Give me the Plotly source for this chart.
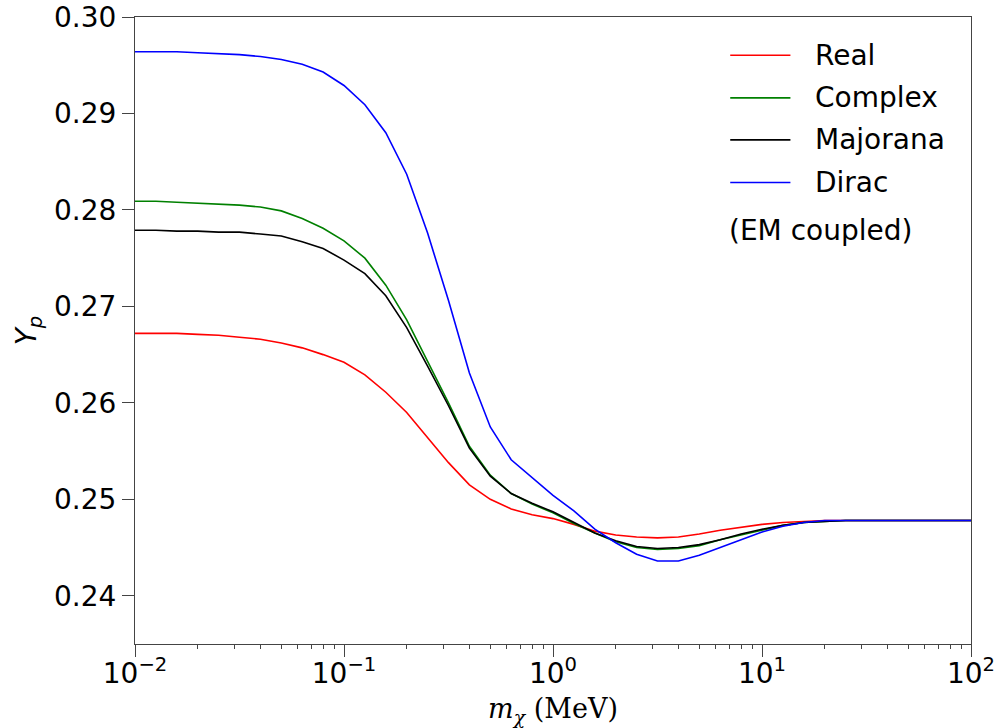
import plotly.graph_objects as go

# log10 of dark-matter mass m_chi (MeV), sampled every 0.1 decade
log_m = [round(-2.0 + 0.1 * k, 1) for k in range(41)]
m_chi = [10 ** v for v in log_m]

y_real = [
    0.2672, 0.2672, 0.2672, 0.2671, 0.2670, 0.2668, 0.2666, 0.2662, 0.2657, 0.2650,
    0.2642, 0.2629, 0.2611, 0.2590, 0.2564, 0.2538, 0.2515, 0.2500, 0.2490, 0.2484,
    0.2480, 0.2474, 0.2467, 0.2463, 0.2461, 0.2460, 0.2461, 0.2464, 0.2468, 0.2471,
    0.2474, 0.2476, 0.2477, 0.2478, 0.2478, 0.2478, 0.2478, 0.2478, 0.2478, 0.2478,
    0.2478,
]
y_complex = [
    0.2809, 0.2809, 0.2808, 0.2807, 0.2806, 0.2805, 0.2803, 0.2799, 0.2791, 0.2781,
    0.2768, 0.2750, 0.2722, 0.2686, 0.2643, 0.2600, 0.2555, 0.2525, 0.2506, 0.2495,
    0.2486, 0.2475, 0.2465, 0.2456, 0.2450, 0.2448, 0.2449, 0.2452, 0.2458, 0.2463,
    0.2468, 0.2473, 0.2476, 0.2477, 0.2478, 0.2478, 0.2478, 0.2478, 0.2478, 0.2478,
    0.2478,
]
y_majorana = [
    0.2779, 0.2779, 0.2778, 0.2778, 0.2777, 0.2777, 0.2775, 0.2773, 0.2767, 0.2760,
    0.2748, 0.2734, 0.2711, 0.2678, 0.2638, 0.2597, 0.2553, 0.2524, 0.2506, 0.2496,
    0.2487, 0.2476, 0.2465, 0.2457, 0.2451, 0.2449, 0.2450, 0.2453, 0.2458, 0.2464,
    0.2469, 0.2473, 0.2476, 0.2477, 0.2478, 0.2478, 0.2478, 0.2478, 0.2478, 0.2478,
    0.2478,
]
y_dirac = [
    0.2964, 0.2964, 0.2964, 0.2963, 0.2962, 0.2961, 0.2959, 0.2956, 0.2951, 0.2943,
    0.2929, 0.2909, 0.2880, 0.2837, 0.2776, 0.2706, 0.2631, 0.2575, 0.2541, 0.2522,
    0.2504, 0.2488, 0.2469, 0.2455, 0.2443, 0.2436, 0.2436, 0.2442, 0.2450, 0.2458,
    0.2466, 0.2472, 0.2476, 0.2478, 0.2478, 0.2478, 0.2478, 0.2478, 0.2478, 0.2478,
    0.2478,
]

series_names = ["Real", "Complex", "Majorana", "Dirac"]
series_values = [y_real, y_complex, y_majorana, y_dirac]
series_colors = ["#ff0000", "#008000", "#000000", "#0000ff"]

x_tickvals = [1e-2, 1e-1, 1e0, 1e1, 1e2]
x_ticktext = ["10<sup>\u22122</sup>", "10<sup>\u22121</sup>", "10<sup>0</sup>",
              "10<sup>1</sup>", "10<sup>2</sup>"]

FONT = "DejaVu Sans"
AXIS_COLOR = "#444444"

fig = go.Figure()
for name, ys, col in zip(series_names, series_values, series_colors):
    fig.add_trace(go.Scatter(
        x=m_chi, y=ys, mode="lines", name=name,
        line=dict(color=col, width=1.6), showlegend=False,
    ))

# minor ticks at 2..9 within each decade
minor_vals = [d * 10 ** e for e in range(-2, 2) for d in range(2, 10)]

fig.update_xaxes(
    type="log", range=[-2, 2], automargin=False,
    tickmode="array", tickvals=x_tickvals, ticktext=x_ticktext,
    ticks="outside", ticklen=12, tickwidth=1, tickcolor=AXIS_COLOR,
    ticklabelposition="outside", ticklabelstandoff=-8,
    minor=dict(tickmode="array", tickvals=minor_vals, ticks="outside",
               ticklen=4, tickwidth=1, tickcolor=AXIS_COLOR, showgrid=False),
    showline=True, linecolor=AXIS_COLOR, linewidth=1, mirror=True,
    showgrid=False, zeroline=False,
    tickfont=dict(family=FONT, size=28, color="black"),
    title=dict(text="<i>m</i><sub><i>\u03c7</i></sub> (MeV)",
               font=dict(family="DejaVu Serif", size=27, color="black"),
               standoff=11),
)
fig.update_yaxes(
    range=[0.235, 0.30], tick0=0.24, dtick=0.01, tickformat=".2f",
    automargin=False,
    ticks="outside", ticklen=12, tickwidth=1, tickcolor=AXIS_COLOR,
    showline=True, linecolor=AXIS_COLOR, linewidth=1, mirror=True,
    showgrid=False, zeroline=False,
    tickfont=dict(family=FONT, size=28, color="black"),
    title=dict(text="<i>Y</i><sub><i>p</i></sub>",
               font=dict(family=FONT, size=28, color="black"),
               standoff=9),
)

# legend drawn in the upper right of the plotting area
leg_x0, leg_x1, leg_text_x = 0.712, 0.784, 0.811
leg_rows = [0.939, 0.871, 0.804, 0.736]
for name, col, yy in zip(series_names, series_colors, leg_rows):
    fig.add_shape(type="line", xref="paper", yref="paper",
                  x0=leg_x0, x1=leg_x1, y0=yy, y1=yy,
                  line=dict(color=col, width=1.6))
    fig.add_annotation(xref="paper", yref="paper", x=leg_text_x, y=yy,
                       text=name, showarrow=False, xanchor="left", yanchor="middle",
                       font=dict(family=FONT, size=28, color="black"))
fig.add_annotation(xref="paper", yref="paper", x=leg_x0 - 0.004, y=0.660,
                   text="(EM coupled)", showarrow=False, xanchor="left", yanchor="middle",
                   font=dict(family=FONT, size=28, color="black"))

fig.update_layout(
    width=1008, height=728,
    margin=dict(l=135, r=37, t=17, b=84),
    paper_bgcolor="white", plot_bgcolor="white",
)

fig.write_html("out.html")
